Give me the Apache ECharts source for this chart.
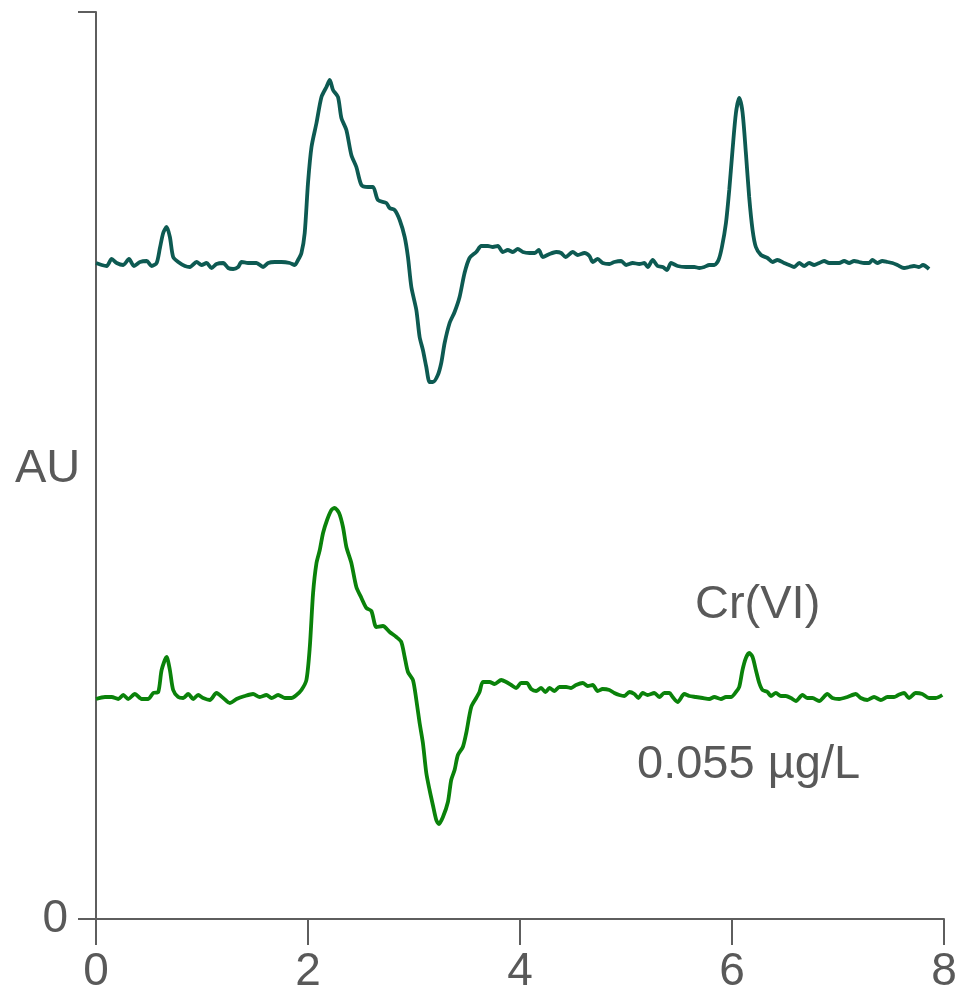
<!DOCTYPE html>
<html>
<head>
<meta charset="utf-8">
<title>Cr(VI) chromatogram</title>
<script src="https://cdn.jsdelivr.net/npm/echarts@6/dist/echarts.min.js"></script>
<style>
  html, body { margin: 0; padding: 0; background: #ffffff; overflow: hidden; }
  #chart { width: 955px; height: 991px; }
</style>
</head>
<body>
<div id="chart"></div>
<script>
// Retention time (min) and detector response for the upper trace
const timeUpper = [
  0.000, 0.054, 0.101, 0.148, 0.195, 0.257, 0.311, 0.358, 0.415, 0.478,
  0.525, 0.572, 0.603, 0.634, 0.666, 0.697, 0.728, 0.776, 0.839, 0.886,
  0.949, 0.996, 1.043, 1.090, 1.137, 1.200, 1.247, 1.294, 1.341, 1.373,
  1.435, 1.514, 1.576, 1.624, 1.687, 1.750, 1.828, 1.875, 1.906, 1.938,
  1.969, 2.000, 2.033, 2.080, 2.127, 2.174, 2.205, 2.236, 2.283, 2.315,
  2.362, 2.409, 2.456, 2.504, 2.566, 2.613, 2.660, 2.739, 2.770, 2.817,
  2.865, 2.912, 2.943, 2.975, 3.022, 3.053, 3.084, 3.116, 3.147, 3.178,
  3.225, 3.257, 3.289, 3.336, 3.383, 3.430, 3.477, 3.524, 3.587, 3.634,
  3.697, 3.744, 3.791, 3.838, 3.885, 3.932, 3.979, 4.026, 4.090, 4.137,
  4.177, 4.215, 4.278, 4.341, 4.388, 4.429, 4.498, 4.545, 4.608, 4.655,
  4.686, 4.733, 4.780, 4.843, 4.890, 4.954, 5.001, 5.063, 5.126, 5.173,
  5.205, 5.252, 5.298, 5.346, 5.387, 5.425, 5.487, 5.566, 5.644, 5.692,
  5.739, 5.786, 5.833, 5.873, 5.905, 5.943, 5.974, 6.005, 6.037, 6.068,
  6.099, 6.131, 6.162, 6.194, 6.225, 6.273, 6.335, 6.382, 6.429, 6.492,
  6.539, 6.586, 6.634, 6.681, 6.728, 6.775, 6.822, 6.869, 6.916, 6.963,
  7.011, 7.058, 7.105, 7.152, 7.199, 7.246, 7.293, 7.325, 7.372, 7.418,
  7.466, 7.513, 7.560, 7.623, 7.670, 7.717, 7.764, 7.802, 7.859
];
const signalUpper = [
  656, 654, 653, 660, 656, 654, 660, 653, 657, 658,
  653, 656, 671, 686, 692, 682, 662, 657, 653, 652,
  657, 654, 656, 651, 655, 656, 651, 650, 652, 657,
  656, 656, 652, 656, 657, 657, 656, 654, 659, 666,
  686, 736, 772, 796, 822, 832, 839, 829, 822, 801,
  789, 764, 752, 734, 732, 732, 719, 716, 711, 709,
  699, 682, 662, 632, 609, 582, 569, 552, 537, 537,
  544, 556, 576, 596, 607, 622, 646, 661, 667, 673,
  673, 672, 673, 667, 669, 667, 670, 667, 666, 666,
  669, 662, 665, 667, 666, 662, 667, 664, 666, 663,
  657, 660, 656, 655, 657, 658, 654, 656, 655, 656,
  652, 659, 653, 652, 649, 656, 653, 652, 652, 651,
  652, 654, 654, 659, 672, 696, 729, 769, 806, 821,
  807, 766, 722, 689, 672, 664, 661, 657, 659, 656,
  654, 652, 656, 653, 656, 654, 656, 658, 656, 656,
  656, 658, 656, 658, 657, 656, 656, 659, 656, 658,
  657, 656, 654, 651, 652, 653, 652, 654, 650
];

// Retention time (min) and detector response for the lower trace (Cr(VI) 0.055 µg/L)
const timeLower = [
  0.000, 0.085, 0.148, 0.210, 0.257, 0.304, 0.367, 0.431, 0.493, 0.540,
  0.587, 0.619, 0.666, 0.697, 0.728, 0.776, 0.823, 0.870, 0.917, 0.964,
  1.011, 1.074, 1.137, 1.200, 1.263, 1.326, 1.404, 1.482, 1.545, 1.608,
  1.656, 1.718, 1.781, 1.844, 1.891, 1.938, 1.985, 2.017, 2.048, 2.080,
  2.111, 2.142, 2.180, 2.221, 2.252, 2.293, 2.330, 2.362, 2.409, 2.456,
  2.504, 2.551, 2.598, 2.645, 2.707, 2.770, 2.833, 2.880, 2.912, 2.943,
  2.990, 3.022, 3.053, 3.084, 3.116, 3.147, 3.178, 3.210, 3.235, 3.273,
  3.320, 3.351, 3.383, 3.414, 3.461, 3.493, 3.540, 3.587, 3.618, 3.650,
  3.713, 3.760, 3.823, 3.870, 3.917, 3.964, 4.011, 4.064, 4.105, 4.152,
  4.199, 4.240, 4.278, 4.325, 4.372, 4.435, 4.482, 4.529, 4.592, 4.639,
  4.686, 4.733, 4.780, 4.843, 4.890, 4.937, 4.984, 5.032, 5.079, 5.117,
  5.157, 5.204, 5.267, 5.314, 5.362, 5.409, 5.440, 5.487, 5.550, 5.597,
  5.660, 5.723, 5.786, 5.833, 5.896, 5.943, 5.990, 6.037, 6.068, 6.099,
  6.131, 6.162, 6.194, 6.225, 6.257, 6.288, 6.335, 6.367, 6.414, 6.461,
  6.508, 6.556, 6.603, 6.665, 6.712, 6.759, 6.822, 6.900, 6.947, 7.011,
  7.089, 7.168, 7.215, 7.277, 7.340, 7.404, 7.466, 7.529, 7.569, 7.623,
  7.670, 7.733, 7.795, 7.859, 7.922, 7.984
];
const signalLower = [
  220, 222, 222, 220, 224, 220, 225, 220, 220, 226,
  227, 249, 262, 249, 229, 222, 221, 225, 220, 224,
  221, 219, 226, 221, 216, 220, 223, 225, 222, 224,
  221, 224, 221, 221, 224, 229, 239, 272, 326, 356,
  369, 386, 399, 409, 411, 406, 392, 372, 356, 332,
  321, 311, 308, 292, 293, 287, 282, 277, 262, 247,
  239, 219, 196, 176, 146, 129, 114, 99, 95, 102,
  117, 139, 149, 164, 172, 186, 212, 221, 227, 237,
  237, 235, 239, 237, 234, 231, 236, 236, 230, 228,
  231, 227, 231, 228, 232, 232, 231, 234, 236, 233,
  234, 228, 230, 229, 226, 224, 223, 227, 225, 221,
  226, 224, 226, 222, 226, 226, 222, 217, 225, 223,
  222, 221, 220, 222, 220, 222, 222, 227, 232, 249,
  261, 266, 262, 249, 236, 229, 227, 223, 226, 223,
  223, 221, 218, 224, 221, 221, 218, 225, 221, 220,
  222, 225, 221, 219, 222, 219, 222, 222, 224, 226,
  221, 226, 225, 221, 221, 224
];

// Axis ticks
const timeTicks = [0, 2, 4, 6, 8];
const responseTicks = [0, 907];

// Annotation texts
const yAxisTitle = 'AU';
const analyteLabel = 'Cr(VI)';
const concentrationLabel = '0.055 µg/L';

const pair = (xs, ys) => xs.map((x, i) => [x, ys[i]]);

const textColor = '#595959';
const axisColor = '#5e5e5e';
const fontFamily = '"Liberation Sans", Arial, Helvetica, sans-serif';

const chart = echarts.init(document.getElementById('chart'), null, {
  renderer: 'canvas', width: 955, height: 991
});

chart.setOption({
  animation: false,
  backgroundColor: '#ffffff',
  grid: {
    left: 96, top: 12, width: 848, height: 907,
    containLabel: false,
    // let the last tick label run to the canvas edge instead of shrinking the plot
    outerBoundsMode: 'none'
  },
  xAxis: {
    type: 'value',
    min: timeTicks[0],
    max: timeTicks[timeTicks.length - 1],
    interval: timeTicks[1] - timeTicks[0],
    axisLine: { show: true, lineStyle: { color: axisColor, width: 2 } },
    axisTick: { show: true, length: 26, lineStyle: { color: axisColor, width: 2 } },
    axisLabel: { margin: 30, color: textColor, fontSize: 46, fontFamily: fontFamily },
    splitLine: { show: false }
  },
  yAxis: {
    type: 'value',
    min: responseTicks[0],
    max: responseTicks[1],
    interval: responseTicks[1] - responseTicks[0],
    axisLine: { show: true, lineStyle: { color: axisColor, width: 2 } },
    axisTick: { show: true, length: 18, lineStyle: { color: axisColor, width: 2 } },
    axisLabel: {
      margin: 28,
      color: textColor,
      fontSize: 46,
      fontFamily: fontFamily,
      formatter: v => (v === responseTicks[0] ? String(v) : '')
    },
    splitLine: { show: false }
  },
  series: [
    {
      type: 'line',
      data: pair(timeUpper, signalUpper),
      showSymbol: false,
      smooth: 0.25,
      lineStyle: { color: '#0d5a52', width: 3.8 },
      z: 3
    },
    {
      type: 'line',
      data: pair(timeLower, signalLower),
      showSymbol: false,
      smooth: 0.25,
      lineStyle: { color: '#0a820a', width: 3.8 },
      z: 3
    }
  ],
  graphic: [
    {
      type: 'text',
      left: 15, top: 446,
      style: { text: yAxisTitle, fill: textColor, font: '47px ' + fontFamily }
    },
    {
      type: 'text',
      left: 695, top: 582,
      style: { text: analyteLabel, fill: textColor, font: '47px ' + fontFamily }
    },
    {
      type: 'text',
      left: 637, top: 742,
      style: { text: concentrationLabel, fill: textColor, font: '47px ' + fontFamily }
    }
  ]
});
</script>
</body>
</html>
